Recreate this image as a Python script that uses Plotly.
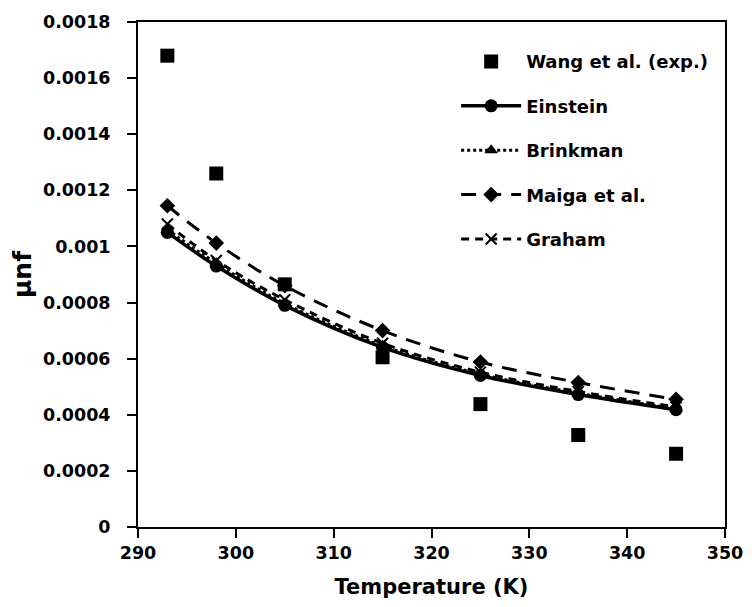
import plotly.graph_objects as go

# Temperature (K) and nanofluid viscosity
temperature = [293, 298, 305, 315, 325, 335, 345]
wang_exp = [0.00168, 0.00126, 0.000865, 0.000605, 0.000438, 0.000328, 0.000261]
einstein = [0.00105, 0.00093, 0.00079, 0.00064, 0.00054, 0.000472, 0.000418]
brinkman = [0.00106, 0.00094, 0.000797, 0.000646, 0.000545, 0.000477, 0.000422]
maiga = [0.001145, 0.001012, 0.00086, 0.0007, 0.000588, 0.000515, 0.000455]
graham = [0.00108, 0.00095, 0.00081, 0.000655, 0.000552, 0.000483, 0.000428]

x_ticks = [290, 300, 310, 320, 330, 340, 350]
y_ticks = [0, 0.0002, 0.0004, 0.0006, 0.0008, 0.001, 0.0012, 0.0014, 0.0016, 0.0018]
y_tick_text = ["0", "0.0002", "0.0004", "0.0006", "0.0008", "0.001",
               "0.0012", "0.0014", "0.0016", "0.0018"]

FONT = "DejaVu Sans"
BLACK = "black"

fig = go.Figure()

fig.add_trace(go.Scatter(
    x=temperature, y=wang_exp, mode="markers", name="Wang et al. (exp.)",
    marker=dict(symbol="square", size=14, color=BLACK), legendgroup="a"))

fig.add_trace(go.Scatter(
    x=temperature, y=einstein, mode="lines+markers", name="Einstein",
    line=dict(color=BLACK, width=3.5, shape="spline"),
    marker=dict(symbol="circle", size=13, color=BLACK), legendgroup="b"))

fig.add_trace(go.Scatter(
    x=temperature, y=brinkman, mode="lines+markers", name="Brinkman",
    line=dict(color=BLACK, width=3, dash="dot", shape="spline"),
    marker=dict(symbol="triangle-up", size=12, color=BLACK), legendgroup="c"))

fig.add_trace(go.Scatter(
    x=temperature, y=maiga, mode="lines+markers", name="Maiga et al.",
    line=dict(color=BLACK, width=3, dash="15px,10px", shape="spline"),
    marker=dict(symbol="diamond", size=12, color=BLACK), legendgroup="d"))

fig.add_trace(go.Scatter(
    x=temperature, y=graham, mode="lines+markers", name="Graham",
    line=dict(color=BLACK, width=3, dash="8px,6px", shape="spline"),
    marker=dict(symbol="x-thin", size=11, color=BLACK,
                line=dict(color=BLACK, width=2)), legendgroup="e"))

axis_common = dict(
    showline=True, linecolor=BLACK, linewidth=2, mirror=True,
    ticks="outside", ticklen=9, tickwidth=2, tickcolor=BLACK,
    showgrid=False, zeroline=False,
    tickfont=dict(family=FONT, size=17.5, color=BLACK, weight="bold"),
)

fig.update_layout(
    width=755, height=607,
    margin=dict(l=138, r=24, t=18, b=79),
    paper_bgcolor="white", plot_bgcolor="white",
    showlegend=True,
    legend=dict(
        x=0.542, y=0.958, xanchor="left", yanchor="top",
        bgcolor="rgba(0,0,0,0)", traceorder="grouped", tracegroupgap=18,
        itemwidth=60,
        font=dict(family=FONT, size=18, color=BLACK, weight="bold"),
    ),
    xaxis=dict(
        range=[290, 350], tickvals=x_ticks,
        title=dict(text="Temperature (K)", standoff=17,
                   font=dict(family=FONT, size=21, color=BLACK, weight="bold")),
        **axis_common,
    ),
    yaxis=dict(
        range=[0, 0.0018], tickvals=y_ticks, ticktext=y_tick_text,
        ticklabelstandoff=13,
        title=dict(text="µnf", standoff=4,
                   font=dict(family=FONT, size=25, color=BLACK, weight="bold")),
        **axis_common,
    ),
)

fig.write_html("out.html")
